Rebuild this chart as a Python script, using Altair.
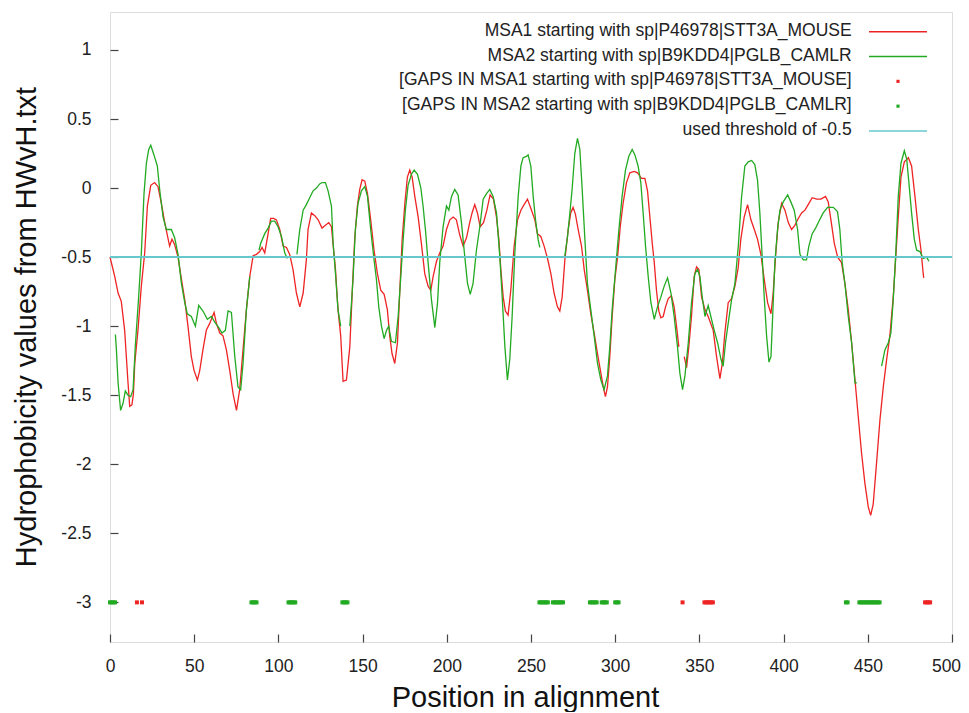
import altair as alt
import pandas as pd

# ---------------- data ----------------
# MSA1 (red) hydrophobicity profile; None marks a break in the line
red_pos = [0, 1, 2.8, 4.8, 6.7, 8.7, 9.7, 10.7, 11.7, 13, 13.9, 14.7, 16.6, 18.6, 20.6, 22.2, 24.2,
           26.5, 28.5, 30.5, 32.5, 35.4, 36.8, 38.4, 40.4, 42.4, 44.4, 46.3, 48.3, 49.9, 51.9, 53.3,
           55.2, 57.2, 59.2, 61.8, 63.2, 65.2, 67.1, 69.1, 71.1, 73.1, 75.1, 77.0, 79.0, 81.0, 83.0,
           85.0, 87.0, 88.9, 90.3, 91.9, 93.9, 95.4, 97.2, 98.8, 100.8, 102.8, 104.8, 106.7, 108.7,
           110.7, 112.7, 114.7, 116.6, 117.6, 119.6, 121.6, 123.6, 125.9, 127.9, 129.9, 131.5, 132.5,
           133.9, 135.4, 137.0, 138.4, 140.4, 142.4, 143.9, 145.3, 146.9, 148.3, 149.7, 151.3, 152.9,
           154.8, 156.8, 158.8, 160.8, 162.8, 164.7, 166.1, 167.5, 169.1, 170.7, 172.1, 173.5, 175.1,
           176.6, 178.0, 179.4, 181.0, 183.0, 184.9, 186.9, 188.9, 190.5, 191.9, 193.9, 195.8, 197.8,
           199.8, 201.8, 203.8, 205.7, 207.7, 209.7, 211.7, 213.6, 215.0, 216.6, 218.2, 219.8, 221.8,
           223.8, 225.7, 227.7, 229.5, 230.9, 232.1, 233.5, 234.8, 236.4, 238.0, 240.0, 242.0, 244.0,
           245.9, 247.9, 250.3, 252.3, 253.8, 255.8, 257.8, 259.8, 261.8, 263.7, 265.7, 267.1, 268.5,
           270.1, 272.1, 273.6, 275.0, 276.4, 278.0, 280.0, 281.6, 283.5, 285.5, 287.5, 289.5, 291.5,
           292.9, 294.2, 295.4, 296.8, 298.2, 299.8, 301.4, 303.0, 304.7, 306.7, 308.7, 311.3, 313.3,
           315.6, 317.6, 319.2, 320.6, 322.0, 323.2, 324.5, 325.9, 327.1, 328.5, 329.9, 331.5, 333.4,
           335.0, 336.4, 337.8, None, 341.0, 342.4, 343.7, 345.3, 346.9, 348.3, 349.7, 351.3, 353.3,
           355.2, 358.2, 360.2, 362.2, 363.6, 365.1, 367.1, 369.1, 371.1, 373.0, 374.6, 376.6, 378.6,
           380.6, 382.6, 384.5, 386.5, 388.5, 390.5, 392.5, 393.8, 395.2, 396.8, 398.8, 400.8, 402.8,
           404.7, 406.7, 408.7, 410.7, 412.7, 414.6, 417.0, 419.6, 422.2, 424.9, 426.5, 428.1, 430.1,
           432.1, 434.4, 436.4, 438.4, 440.4, 442.4, 444.3, 446.3, 448.3, 450.3, 451.7, 453.2, 455.2,
           457.2, 459.2, 461.2, 463.1, 465.1, 466.5, 468.1, 469.7, 471.7, 474.1, 476.0, 478.0, 480.0,
           481.6, 482.9, 483.2]
red_val = [-0.50, -0.55, -0.64, -0.76, -0.82, -1.03, -1.22, -1.41, -1.58, -1.57, -1.49, -1.27, -1.03,
           -0.71, -0.47, -0.13, 0.02, 0.04, 0.01, -0.11, -0.25, -0.42, -0.37, -0.41, -0.50, -0.66,
           -0.81, -1.00, -1.22, -1.32, -1.39, -1.32, -1.17, -1.03, -0.98, -0.90, -0.98, -1.05, -1.07,
           -1.17, -1.32, -1.49, -1.61, -1.46, -1.17, -0.88, -0.64, -0.49, -0.48, -0.46, -0.43, -0.47,
           -0.33, -0.22, -0.22, -0.23, -0.30, -0.42, -0.43, -0.48, -0.59, -0.76, -0.86, -0.76, -0.52,
           -0.30, -0.18, -0.20, -0.23, -0.29, -0.27, -0.25, -0.28, -0.41, -0.59, -0.88, -1.07, -1.40,
           -1.39, -1.15, -0.74, -0.37, -0.13, -0.01, 0.06, 0.05, -0.04, -0.23, -0.45, -0.62, -0.74,
           -0.77, -0.88, -1.07, -1.20, -1.27, -1.12, -0.74, -0.37, -0.11, 0.08, 0.13, 0.08, -0.06,
           -0.21, -0.40, -0.62, -0.71, -0.74, -0.64, -0.53, -0.47, -0.42, -0.30, -0.23, -0.21, -0.23,
           -0.34, -0.42, -0.36, -0.25, -0.18, -0.12, -0.18, -0.28, -0.25, -0.16, -0.05, -0.08, -0.21,
           -0.37, -0.59, -0.79, -0.89, -0.92, -0.74, -0.42, -0.23, -0.16, -0.12, -0.08, -0.16, -0.23,
           -0.33, -0.35, -0.42, -0.51, -0.62, -0.76, -0.86, -0.89, -0.79, -0.52, -0.30, -0.18, -0.14,
           -0.19, -0.30, -0.42, -0.59, -0.74, -0.91, -1.05, -1.20, -1.34, -1.44, -1.51, -1.44, -1.22,
           -0.93, -0.66, -0.50, -0.28, -0.11, 0.04, 0.11, 0.12, 0.11, 0.07, 0.07, -0.02, -0.21, -0.40,
           -0.54, -0.74, -0.89, -0.94, -0.93, -0.86, -0.80, -0.78, -0.86, -1.00, -1.15, None, -1.22,
           -1.30, -1.15, -0.93, -0.64, -0.57, -0.59, -0.79, -0.88, -0.93, -1.03, -1.22, -1.38, -1.27,
           -1.05, -0.83, -0.80, -0.71, -0.58, -0.37, -0.21, -0.12, -0.23, -0.30, -0.37, -0.48, -0.66,
           -0.83, -0.91, -0.76, -0.50, -0.25, -0.11, -0.16, -0.25, -0.30, -0.27, -0.22, -0.18, -0.16,
           -0.12, -0.07, -0.08, -0.08, -0.06, -0.10, -0.23, -0.40, -0.50, -0.54, -0.69, -0.88, -1.12,
           -1.39, -1.65, -1.92, -2.14, -2.31, -2.37, -2.29, -1.99, -1.68, -1.44, -1.24, -1.07, -0.79,
           -0.52, -0.21, 0.08, 0.19, 0.22, 0.16, -0.06, -0.30, -0.45, -0.62, -0.65]

# MSA2 (green) hydrophobicity profile; None marks a break in the line
green_pos = [3.2, 3.8, 4.8, 6.3, 7.7, 9.1, 10.7, 12.3, 13.7, 15.0, 17.0, 18.6, 20.2, 21.6, 23.0, 24.2,
             26.1, 28.1, 29.5, 31.5, 33.5, 36.4, 38.4, 40.4, 42.4, 44.4, 45.9, 48.3, 50.7, 52.7, 55.2,
             57.8, 60.2, 62.2, 64.6, 66.5, 68.5, 70.1, 72.1, 74.1, 76.0, 77.6, 79.0, 81.0, 83.0, None,
             88.5, 89.5, 91.9, 93.9, 95.8, 97.8, 99.8, 101.8, 103.8, 105.3, None, 111.0, 112.7, 114.7,
             116.6, 118.6, 120.6, 122.6, 124.5, 125.9, 127.9, 129.5, 131.5, 132.5, 133.9, 135.4, 137.0,
             None, 142.4, 143.4, 144.4, 145.7, 147.3, 149.3, 151.3, 152.9, 154.8, 156.8, 158.2, 159.6,
             161.2, 162.8, 164.2, 165.5, 167.1, 169.5, 171.1, 172.7, 174.1, 175.4, 177.0, 179.0, 180.6,
             182.6, 184.6, 185.9, 187.3, 188.9, 190.9, 192.9, 194.5, 195.8, 197.8, 199.8, 201.2, 202.8,
             204.7, 206.7, 208.7, 210.7, 212.3, 213.9, 215.6, 217.6, 219.6, 221.6, 223.6, 225.5, 227.5,
             229.5, 231.5, 232.9, 234.5, 236.0, 237.4, 238.8, 240.4, 242.4, 244.0, 245.3, 247.3, 248.3,
             249.9, 251.3, 252.7, 254.2, 255.2, None, 270.0, 271.7, 273.1, 274.4, 276.0, 277.6, 279.0,
             280.4, 282.0, 283.5, 285.5, 287.5, 289.5, 291.5, 293.4, 295.4, 296.8, 298.2, 300.2, 302.2,
             304.1, 306.1, 308.1, 310.1, 311.7, 313.6, 315.2, 316.6, 318.0, 319.6, 321.2, 323.2, 325.1,
             327.1, 329.1, 331.1, 333.1, 335.0, 337.0, 338.4, 340.0, 341.4, 343.4, 345.3, 347.3, 348.9,
             350.3, 351.7, 353.3, 355.2, 356.8, 358.8, 360.8, 362.8, 364.1, 365.5, 367.1, 369.1, 371.1,
             373.1, 375.0, 377.0, 379.0, 381.0, 382.9, 384.5, 385.9, 387.3, 388.5, 389.9, 391.3, 392.5,
             393.5, 394.8, 396.4, 397.8, 399.8, 402.4, 404.3, 406.3, 408.3, 409.7, 411.7, 413.6, 415.0,
             417.0, 419.0, 421.0, 423.5, 426.1, 429.5, 432.0, 433.4, 434.8, 436.4, 438.4, 440.4, 442.4,
             443.5, None, 458.2, 460.2, 462.2, 463.7, 465.1, 466.5, 468.1, 469.7, 471.7, 473.1, 474.4,
             476.0, 477.6, 479.0, 481.0, 482.9, 484.9, 486.3]
green_val = [-1.06, -1.17, -1.41, -1.61, -1.56, -1.47, -1.50, -1.51, -1.46, -1.15, -0.79, -0.47, -0.04,
             0.18, 0.28, 0.31, 0.24, 0.16, -0.01, -0.21, -0.30, -0.30, -0.36, -0.48, -0.69, -0.83,
             -0.91, -0.93, -1.00, -0.85, -0.89, -0.95, -0.93, -0.97, -1.01, -1.05, -1.03, -0.89, -0.90,
             -1.22, -1.44, -1.46, -1.27, -0.88, -0.64, None, -0.45, -0.40, -0.33, -0.29, -0.24, -0.24,
             -0.28, -0.35, -0.47, -0.51, None, -0.48, -0.30, -0.16, -0.12, -0.07, -0.02, 0.00, 0.03,
             0.04, 0.04, -0.02, -0.13, -0.40, -0.62, -0.88, -1.00, None, -1.00, -0.83, -0.64, -0.30,
             -0.11, -0.02, 0.01, -0.06, -0.30, -0.52, -0.66, -0.86, -1.00, -1.09, -1.03, -1.00, -1.11,
             -1.12, -0.93, -0.64, -0.37, -0.16, 0.02, 0.10, 0.13, 0.10, 0.00, -0.13, -0.30, -0.54,
             -0.81, -1.01, -0.83, -0.54, -0.28, -0.13, -0.16, -0.06, -0.01, -0.05, -0.25, -0.50, -0.69,
             -0.77, -0.69, -0.45, -0.28, -0.08, -0.04, -0.01, -0.06, -0.18, -0.50, -0.79, -1.15, -1.39,
             -1.24, -0.93, -0.47, -0.06, 0.16, 0.22, 0.23, 0.24, 0.16, -0.06, -0.23, -0.37, -0.43, None,
             -0.50, -0.35, -0.18, -0.01, 0.25, 0.36, 0.28, -0.01, -0.37, -0.69, -0.88, -1.07, -1.27,
             -1.39, -1.46, -1.36, -1.15, -0.88, -0.59, -0.30, -0.06, 0.13, 0.23, 0.28, 0.24, 0.16, 0.04,
             -0.18, -0.42, -0.64, -0.83, -0.95, -0.86, -0.79, -0.71, -0.65, -0.76, -0.93, -1.15, -1.34,
             -1.46, -1.36, -1.12, -0.83, -0.62, -0.59, -0.64, -0.79, -0.93, -0.85, -0.93, -1.03, -1.12,
             -1.24, -1.29, -1.12, -0.98, -0.81, -0.69, -0.42, -0.07, 0.16, 0.19, 0.20, 0.17, 0.06,
             -0.18, -0.50, -0.79, -1.07, -1.26, -1.22, -0.93, -0.54, -0.30, -0.16, -0.10, -0.05, -0.10,
             -0.16, -0.30, -0.48, -0.52, -0.52, -0.42, -0.33, -0.29, -0.24, -0.18, -0.14, -0.14, -0.17,
             -0.30, -0.54, -0.69, -0.93, -1.12, -1.41, -1.41, None, -1.29, -1.17, -1.12, -1.05, -0.81,
             -0.50, -0.06, 0.18, 0.27, 0.21, 0.04, -0.18, -0.37, -0.45, -0.46, -0.51, -0.50, -0.53]

# alignment positions that are gaps (drawn at y = -3)
gaps_msa1 = [16, 19, 340, 353, 354, 355, 356, 357, 358, 484, 485, 486, 487]
gaps_msa2 = [0, 1, 2, 3, 84, 85, 86, 87, 106, 107, 108, 109, 110, 138, 139, 140, 141,
             255, 256, 257, 258, 259, 260, 263, 264, 265, 266, 267, 268, 269,
             285, 286, 287, 288, 289, 292, 293, 294, 295, 300, 301, 302, 437, 438,
             445, 446, 447, 448, 449, 450, 451, 452, 453, 454, 455, 456, 457]
gap_level = -3
threshold = -0.5

legend_labels = ["MSA1 starting with sp|P46978|STT3A_MOUSE",
                 "MSA2 starting with sp|B9KDD4|PGLB_CAMLR",
                 "[GAPS IN MSA1 starting with sp|P46978|STT3A_MOUSE]",
                 "[GAPS IN MSA2 starting with sp|B9KDD4|PGLB_CAMLR]",
                 "used threshold of -0.5"]
x_ticks = [0, 50, 100, 150, 200, 250, 300, 350, 400, 450, 500]
y_ticks = [-3, -2.5, -2, -1.5, -1, -0.5, 0, 0.5, 1]

# ---------------- styling ----------------
RED = "#ee2424"
GREEN = "#22aa22"
CYAN = "#66c8cc"
TXT = "#222222"
FONT = "Liberation Sans"
W, H = 842, 630


def to_rows(name, pos, val):
    rows, seg = [], 0
    for p, v in zip(pos, val):
        if v is None:
            seg += 1
            continue
        rows.append({"series": name, "seg": f"{name}-{seg}", "pos": p, "val": v})
    return pd.DataFrame(rows)


red_df = to_rows("MSA1", red_pos, red_val)
green_df = to_rows("MSA2", green_pos, green_val)
gap1_df = pd.DataFrame({"pos": gaps_msa1, "val": [gap_level] * len(gaps_msa1)})
gap2_df = pd.DataFrame({"pos": gaps_msa2, "val": [gap_level] * len(gaps_msa2)})
thr_df = pd.DataFrame({"t": [threshold]})
leg_df = pd.DataFrame({
    "label": legend_labels,
    "row": list(range(len(legend_labels))),
    "color": [RED, GREEN, RED, GREEN, CYAN],
    "kind": ["line", "line", "dot", "dot", "line"],
})

xscale = alt.Scale(domain=[0, 500], nice=False, zero=False)
yscale = alt.Scale(domain=[-3.287, 1.275], nice=False, zero=False)

x_axis = alt.Axis(values=x_ticks, format="d", tickSize=8, offset=-8, domain=False, grid=False,
                  tickColor="#444444", tickWidth=1.2, labelFontSize=17.5, labelColor=TXT,
                  labelPadding=15, labelFlush=False, labelOverlap=False, labelFont=FONT,
                  labelOffset={"condition": {"test": "datum.value == 500", "value": -6}, "value": 0},
                  title="Position in alignment", titleFontSize=29, titleFontWeight="normal",
                  titleColor="#111111", titleFont=FONT, titleX=415, titleY=72,
                  titleAlign="center", titleBaseline="alphabetic")
y_axis = alt.Axis(values=y_ticks, tickSize=8, offset=-8, domain=False, grid=False,
                  labelExpr="datum.value < 0 ? '-' + format(-datum.value, '~g') : format(datum.value, '~g')",
                  tickColor="#444444", tickWidth=1.2, labelFontSize=17.5, labelColor=TXT,
                  labelPadding=19, labelFlush=False, labelOverlap=False, labelFont=FONT,
                  title="Hydrophobicity values from HWvH.txt", titleFontSize=29,
                  titleFontWeight="normal", titleColor="#111111", titleFont=FONT,
                  titleX=-83, titleY=314.5, titleAngle=270, titleAlign="center",
                  titleBaseline="alphabetic")

X = alt.X("pos:Q", scale=xscale, axis=x_axis)

red_line = alt.Chart(red_df).mark_line(color=RED, strokeWidth=1.3).encode(
    x=X, y=alt.Y("val:Q", scale=yscale, axis=y_axis), detail="seg:N")
green_line = alt.Chart(green_df).mark_line(color=GREEN, strokeWidth=1.3).encode(
    x=X, y=alt.Y("val:Q", scale=yscale, axis=None), detail="seg:N")
gap1 = alt.Chart(gap1_df).mark_square(color=RED, size=16, opacity=1).encode(
    x=X, y=alt.Y("val:Q", scale=yscale, axis=None))
gap2 = alt.Chart(gap2_df).mark_square(color=GREEN, size=16, opacity=1).encode(
    x=X, y=alt.Y("val:Q", scale=yscale, axis=None))
thr = alt.Chart(thr_df).mark_rule(color=CYAN, strokeWidth=2).encode(
    y=alt.Y("t:Q", scale=yscale, axis=None))

row_y = alt.Y("row:Q", scale=alt.Scale(domain=[0, 4], range=[19.7, 119]), axis=None)
leg_base = alt.Chart(leg_df)
leg_text = leg_base.mark_text(align="right", baseline="middle", fontSize=17.5, font=FONT,
                              color=TXT, dy=-1).encode(
    x=alt.value(741.7), y=row_y, text="label:N")
leg_line = leg_base.transform_filter(alt.datum.kind == "line").mark_rule(strokeWidth=1.5).encode(
    x=alt.value(759), x2=alt.value(817), y=row_y, color=alt.Color("color:N", scale=None))
leg_dot = leg_base.transform_filter(alt.datum.kind == "dot").mark_square(size=10, opacity=1).encode(
    x=alt.value(788), y=row_y, color=alt.Color("color:N", scale=None))

chart = alt.layer(
    red_line, green_line, gap1, gap2, thr, leg_text, leg_line, leg_dot
).resolve_scale(
    y="independent"
).properties(
    width=W, height=H,
    autosize=alt.AutoSizeParams(type="none"),
    padding={"left": 102, "top": 4, "right": 9, "bottom": 70},
).configure_view(
    stroke="#3a3a3a", strokeWidth=1.6
).configure(
    font=FONT
)

chart.save("out.html", embed_options={"renderer": "svg", "actions": False})
